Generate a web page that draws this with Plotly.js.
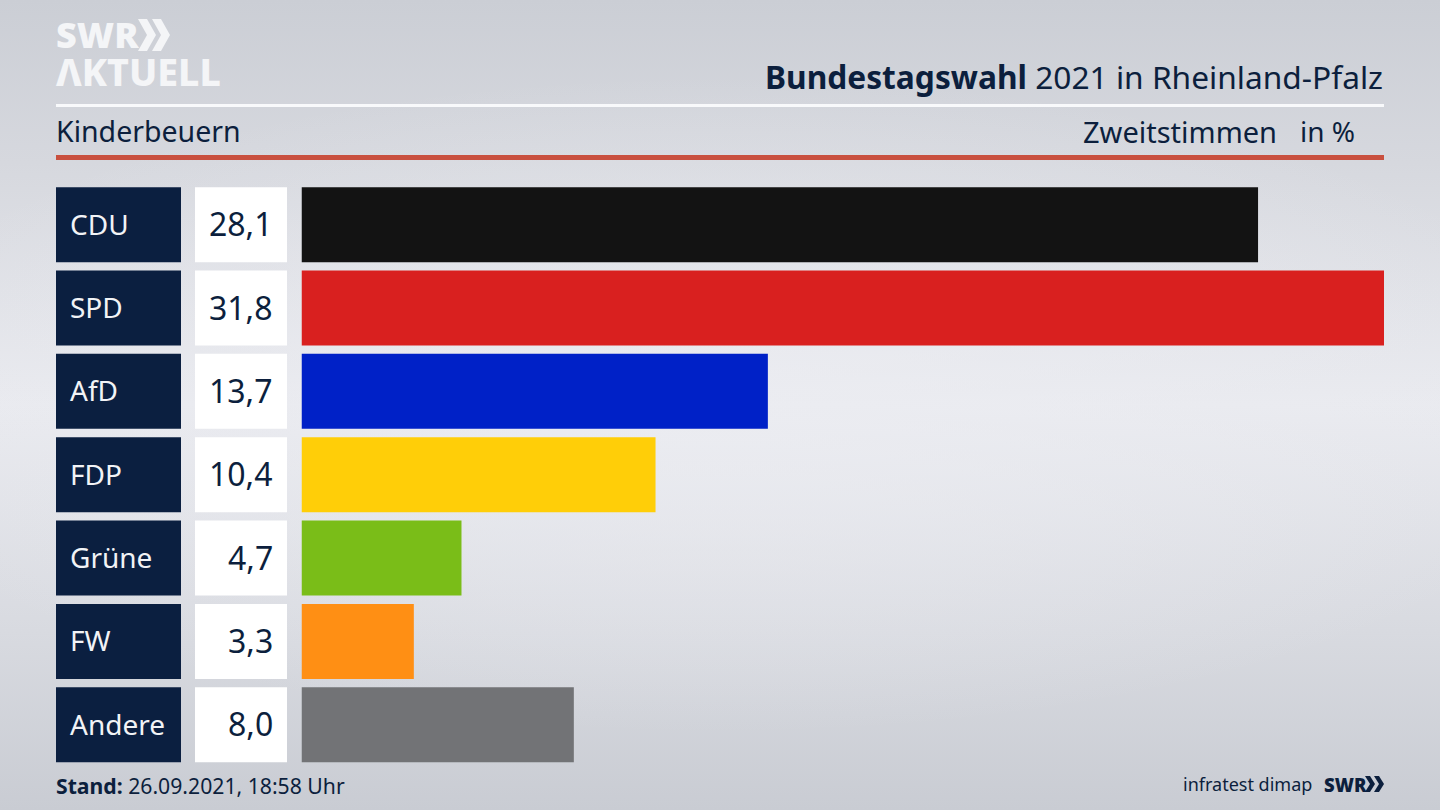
<!DOCTYPE html>
<html><head><meta charset="utf-8">
<script src="https://cdn.plot.ly/plotly-3.0.1.min.js"></script>
<style>
html,body{margin:0;padding:0;width:1440px;height:810px;overflow:hidden;
background:radial-gradient(ellipse 900px 330px at 50% 50%,rgba(236,237,242,.75),rgba(236,237,242,0)),linear-gradient(180deg,#cbced5 0%,#d6d8de 20%,#e9eaef 50%,#d8dae0 78%,#c9ccd3 100%);}
#c{width:1440px;height:810px}
</style></head><body><div id="c"></div>
<script>
const categories=['CDU','SPD','AfD','FDP','Grüne','FW','Andere'];
const values=[28.1,31.8,13.7,10.4,4.7,3.3,8.0];
const barColors=['#131313','#d9201f','#0021c7','#ffce08','#7abd18','#ff8f14','#727376'];
const navy='#0c1f3d';
const font='"Noto Sans", sans-serif';
const W=1440,H=810;
const px=v=>v/W, py=v=>1-v/H;
const valueText=values.map(v=>v.toFixed(1).replace('.',','));
const full=categories.map(()=>1);

const traces=[
 {type:'bar',orientation:'h',y:categories,x:full,xaxis:'x2',yaxis:'y',marker:{color:'#0b1f40'},hoverinfo:'skip'},
 {type:'bar',orientation:'h',y:categories,x:full,xaxis:'x3',yaxis:'y',marker:{color:'#ffffff'},hoverinfo:'skip'},
 {type:'bar',orientation:'h',y:categories,x:values,xaxis:'x',yaxis:'y',marker:{color:barColors}}
];
const annotations=[];
categories.forEach((c,i)=>{
 annotations.push({x:0,xref:'x2',y:c,yref:'y',text:c,showarrow:false,xanchor:'left',xshift:12,yshift:1,font:{family:font,size:28,color:'#f2f3f6'}});
 annotations.push({x:1,xref:'x3',y:c,yref:'y',text:valueText[i],showarrow:false,xanchor:'right',xshift:-12,yshift:1,font:{family:font,size:32,color:navy}});
});
const note=(x,y,text,anchor,size,color,fontExtra)=>annotations.push({xref:'paper',yref:'paper',x:px(x),y:py(y),text,showarrow:false,xanchor:anchor,yanchor:'middle',font:Object.assign({family:font,size,color},fontExtra||{})});
note(1385,76,'<b>Bundestagswahl</b> 2021 in Rheinland-Pfalz','right',31.7,navy);
note(54,131,'Kinderbeuern','left',28.5,navy);
note(1279,131,'Zweitstimmen','right',29,navy);
note(1357,131,'in %','right',28,navy);
note(54,785,'<b>Stand:</b> 26.09.2021, 18:58 Uhr','left',21.2,navy);
note(1314,784,'infratest dimap','right',18,navy);
note(1322,784,'SWR','left',18.5,navy,{weight:900});
note(54,35,'SWR','left',36,'#f4f5f7',{weight:900});
note(54,71,'ΛKTUELL','left',37.5,'#f4f5f7',{weight:800});

const chev=(x,y,w,h,t,col)=>({type:'path',xref:'paper',yref:'paper',line:{width:0},fillcolor:col,
 path:`M${px(x)},${py(y)} L${px(x+t)},${py(y)} L${px(x+t+w)},${py(y+h/2)} L${px(x+t)},${py(y+h)} L${px(x)},${py(y+h)} L${px(x+w)},${py(y+h/2)} Z`});
const rect=(x0,y0,x1,y1,col)=>({type:'rect',xref:'paper',yref:'paper',x0:px(x0),x1:px(x1),y0:py(y0),y1:py(y1),line:{width:0},fillcolor:col});
const shapes=[
 rect(56,104,1384,107,'#f8f9fb'),
 rect(56,155,1384,160,'#c9503f'),
 chev(138,19,9,32,9,'#f4f5f7'),
 chev(152,19,9,32,9,'#f4f5f7'),
 chev(1365,776,5,16,5,navy),
 chev(1374,776,5,16,5,navy)
];
const hidden={showgrid:false,zeroline:false,showticklabels:false,ticks:'',showline:false,fixedrange:true};
const layout={width:W,height:H,margin:{l:0,r:0,t:0,b:0},paper_bgcolor:'rgba(0,0,0,0)',plot_bgcolor:'rgba(0,0,0,0)',
 showlegend:false,bargap:0.1,barmode:'overlay',font:{family:font,color:navy},
 xaxis:Object.assign({},hidden,{domain:[px(301.5),px(1384)],range:[0,31.8],anchor:'y'}),
 xaxis2:Object.assign({},hidden,{domain:[px(56),px(181)],range:[0,1],anchor:'y'}),
 xaxis3:Object.assign({},hidden,{domain:[px(195),px(287)],range:[0,1],anchor:'y'}),
 yaxis:Object.assign({},hidden,{domain:[py(766.4),py(183)],autorange:'reversed',type:'category',categoryorder:'array',categoryarray:categories}),
 annotations,shapes};
Plotly.newPlot('c',traces,layout,{displayModeBar:false,staticPlot:true});
</script></body></html>
